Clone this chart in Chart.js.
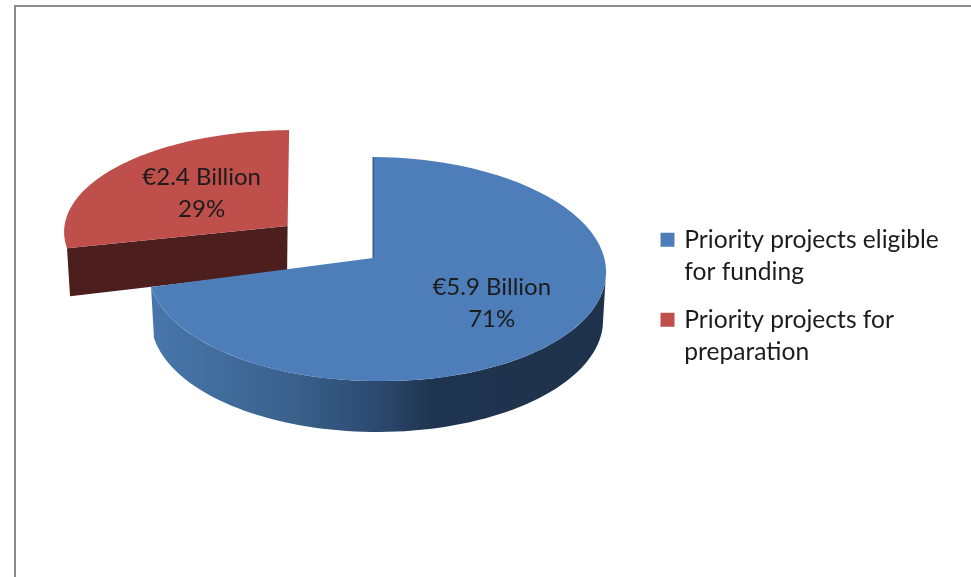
<!DOCTYPE html>
<html>
<head>
<meta charset="utf-8">
<style>
html,body{margin:0;padding:0;background:#fff;width:971px;height:577px;overflow:hidden}
#frame{position:absolute;left:14px;top:5px;width:957px;height:572px;border-top:2px solid #8c8c8c;border-left:2px solid #8c8c8c;box-sizing:border-box}
canvas{position:absolute;left:0;top:0;filter:blur(0.35px)}
</style>
<script src="https://cdn.jsdelivr.net/npm/chart.js@4/dist/chart.umd.min.js"></script>
</head>
<body>
<div id="frame"></div>
<canvas id="c" width="971" height="577"></canvas>
<script>
const categories = [["Priority projects eligible", "for funding"], ["Priority projects for", "preparation"]];
const billions = [5.9, 2.4];
const amountLabels = ["€5.9 Billion", "€2.4 Billion"];
const percentLabels = ["71%", "29%"];
const topColors = ["#4D7EBA", "#BE4F4B"];

const FONT = "Lato, Carlito, sans-serif";
const deg = Math.PI / 180;
// Skew of the perspective view: how the chart's angle lands on the tilted disc.
const warp = t => t - 1 * deg + 9.5 * deg * (1 - Math.cos(t)) / 2;

function project(arc, t, v) {
  const w = warp(t), R = arc.outerRadius, s = Math.sin(w);
  return {
    x: arc.x + v.dx + R * v.rx * s,
    y: arc.y + v.dy - R * v.ry * Math.cos(w) + (v.tilt || 0) * Math.max(s, 0)
  };
}
function outline(ctx, arc, from, to, v, start) {
  const n = 80;
  for (let i = 0; i <= n; i++) {
    const p = project(arc, from + (to - from) * i / n, v);
    if (i === 0 && start) ctx.moveTo(p.x, p.y); else ctx.lineTo(p.x, p.y);
  }
}

const views = [
  { top: {dx: 0, dy: 0, rx: 1, ry: 0.489, tilt: 3},
    low: {dx: 0, dy: 51, rx: 0.987, ry: 0.489, tilt: 0},
    apex: {dx: -4, dy: -11}, labelR: 0.657, labelRy: 0.49 },
  { top: {dx: -84, dy: -37, rx: 1, ry: 0.445},
    apex: {dx: -89.5, dy: -43}, labelR: 0.476, labelRy: 0.49 }
];

const pie3d = {
  id: "pie3d",
  afterLayout(chart) {
    const l = chart.legend;
    const w = l.right - l.left, h = l.bottom - l.top;
    l.left = 647; l.right = 647 + w;
    l.top = 299.5 - h / 2; l.bottom = l.top + h;
  },
  beforeDatasetDraw() { return false; },
  afterDatasetsDraw(chart) {
    const ctx = chart.ctx;
    const arcs = chart.getDatasetMeta(0).data;
    const angle = a => a + Math.PI / 2;

    // exploded red slice
    {
      const arc = arcs[1], v = views[1];
      const a0 = angle(arc.startAngle), a1 = angle(arc.endAngle);
      const ax = arc.x + v.apex.dx, ay = arc.y + v.apex.dy;
      const c = project(arc, a0, v.top);
      ctx.fillStyle = "#4C1F1E";
      ctx.beginPath();
      ctx.moveTo(c.x, c.y); ctx.lineTo(ax, ay); ctx.lineTo(ax - 0.5, ay + 45);
      ctx.lineTo(c.x + 3, c.y + 48); ctx.closePath(); ctx.fill();
      ctx.fillStyle = topColors[1];
      ctx.beginPath();
      outline(ctx, arc, a0, a1, v.top, true);
      ctx.lineTo(ax, ay); ctx.closePath(); ctx.fill();
    }
    // blue slice
    {
      const arc = arcs[0], v = views[0];
      const a0 = angle(arc.startAngle), a1 = angle(arc.endAngle);
      const ax = arc.x + v.apex.dx, ay = arc.y + v.apex.dy;
      const R = arc.outerRadius;
      const g = ctx.createLinearGradient(arc.x - R, 0, arc.x + R, 0);
      g.addColorStop(0, "#4877AC");
      g.addColorStop(0.3, "#3B628E");
      g.addColorStop(0.5, "#2C4A6F");
      g.addColorStop(0.62, "#1F344F");
      g.addColorStop(1, "#1F324B");
      ctx.fillStyle = g;
      ctx.beginPath();
      outline(ctx, arc, Math.PI / 2, a1, v.top, true);
      outline(ctx, arc, a1, Math.PI / 2, v.low, false);
      ctx.closePath(); ctx.fill();

      ctx.fillStyle = topColors[0];
      ctx.beginPath();
      outline(ctx, arc, a0, a1, v.top, true);
      ctx.lineTo(ax, ay); ctx.closePath(); ctx.fill();

      const t = project(arc, a0, v.top);
      ctx.strokeStyle = "#23395A"; ctx.lineWidth = 1;
      ctx.beginPath(); ctx.moveTo(t.x, t.y); ctx.lineTo(ax, ay); ctx.stroke();
    }
    // data labels
    ctx.fillStyle = "#1c1c1c";
    ctx.font = "24px " + FONT;
    ctx.textAlign = "center"; ctx.textBaseline = "middle";
    arcs.forEach((arc, i) => {
      const v = views[i], m = (arc.startAngle + arc.endAngle) / 2 + Math.PI / 2;
      const x = arc.x + v.apex.dx + arc.outerRadius * v.labelR * Math.sin(m);
      const y = arc.y + v.apex.dy - arc.outerRadius * v.labelR * v.labelRy * Math.cos(m);
      ctx.fillText(amountLabels[i], x, y - 16);
      ctx.fillText(percentLabels[i], x, y + 16);
    });
  }
};

new Chart(document.getElementById("c"), {
  type: "pie",
  plugins: [pie3d],
  data: {
    labels: categories,
    datasets: [{ data: billions, backgroundColor: topColors, borderWidth: 0 }]
  },
  options: {
    responsive: false,
    animation: false,
    layout: { padding: { left: 85, right: 0, top: 40, bottom: 79 } },
    plugins: {
      tooltip: { enabled: false },
      legend: {
        position: "right",
        labels: {
          color: "#1c1c1c",
          font: { family: FONT, size: 24.6, lineHeight: 1.3 },
          boxWidth: 9, boxHeight: 9, padding: 16,
          generateLabels(chart) {
            return Chart.overrides.pie.plugins.legend.labels.generateLabels(chart).map((it, i) => {
              it.text = categories[i];
              it.lineWidth = 5;
              it.strokeStyle = topColors[i];
              return it;
            });
          }
        }
      }
    }
  }
});
</script>
</body>
</html>
